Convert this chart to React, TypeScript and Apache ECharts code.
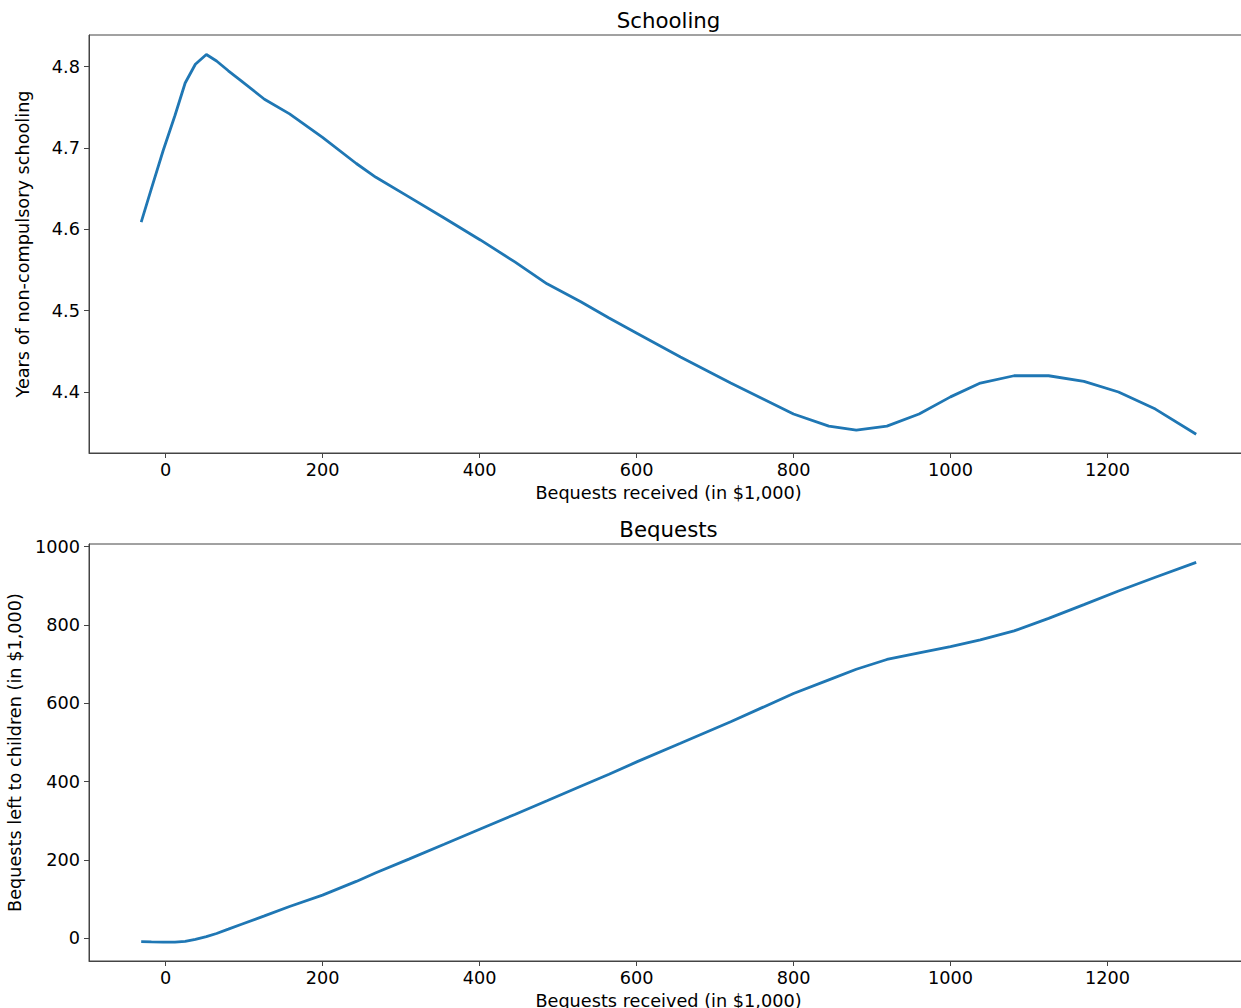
import React, { useEffect, useRef } from "react";
import * as echarts from "echarts";

const X = [-31, -18, -3, 12, 25, 38, 52, 65, 80, 96, 126, 158, 200, 243, 268, 310, 355, 401, 445, 486, 529, 565, 601, 656, 720, 760, 800, 845, 880, 919, 960, 1000, 1038, 1081, 1125, 1170, 1214, 1261, 1313];
const SCHOOLING = [4.609, 4.65, 4.697, 4.74, 4.78, 4.803, 4.815, 4.807, 4.795, 4.783, 4.76, 4.742, 4.713, 4.681, 4.664, 4.64, 4.614, 4.587, 4.56, 4.533, 4.511, 4.491, 4.472, 4.443, 4.411, 4.392, 4.373, 4.358, 4.353, 4.358, 4.373, 4.394, 4.411, 4.42, 4.42, 4.413, 4.4, 4.379, 4.348];
const BEQUESTS = [-9, -9.5, -10, -10, -8, -3, 4, 12, 23, 35, 57, 81, 110, 145, 167, 202, 240, 279, 316, 351, 388, 419, 451, 498, 553, 589, 625, 660, 687, 712, 729, 745, 762, 785, 817, 852, 887, 922, 960];
const X_TICKS = [0, 200, 400, 600, 800, 1000, 1200];
const Y1_TICKS = [4.4, 4.5, 4.6, 4.7, 4.8];
const Y2_TICKS = [0, 200, 400, 600, 800, 1000];

const FONT = "DejaVu Sans";
const AXIS = "#444";
const TXT = "#000";
const FS = 17.7;

export default function App() {
  const ref = useRef<HTMLDivElement>(null);
  useEffect(() => {
    if (!ref.current) return;
    const chart = echarts.init(ref.current, undefined, { renderer: "svg" });
    const xAxisBase = (gridIndex: number) => ({
      type: "value",
      gridIndex,
      min: -97.5,
      max: 1379,
      name: "Bequests received (in $1,000)",
      nameLocation: "middle",
      nameGap: 31,
      nameTextStyle: { fontFamily: FONT, fontSize: FS, color: TXT },
      axisLine: { show: true, onZero: false, lineStyle: { color: AXIS, width: 1 } },
      axisTick: { show: true, length: 5, customValues: X_TICKS, lineStyle: { color: AXIS, width: 1 } },
      axisLabel: { customValues: X_TICKS, margin: 8, fontFamily: FONT, fontSize: FS, color: TXT, formatter: (v: number) => String(v) },
      splitLine: { show: false },
    });
    const yAxisBase = (gridIndex: number, min: number, max: number, ticks: number[], name: string) => ({
      type: "value",
      gridIndex,
      min,
      max,
      name,
      nameLocation: "middle",
      nameGap: 57,
      nameTextStyle: { fontFamily: FONT, fontSize: FS, color: TXT },
      axisLine: { show: true, onZero: false, lineStyle: { color: AXIS, width: 1 } },
      axisTick: { show: true, length: 5, customValues: ticks, lineStyle: { color: AXIS, width: 1 } },
      axisLabel: { customValues: ticks, margin: 9, fontFamily: FONT, fontSize: FS, color: TXT, formatter: (v: number) => String(v) },
      splitLine: { show: false },
    });
    chart.setOption({
      animation: false,
      backgroundColor: "#ffffff",
      title: [
        { text: "Schooling", left: 668.5, top: 10, padding: 0, textAlign: "center", textStyle: { fontFamily: FONT, fontSize: 21.3, fontWeight: "normal", color: TXT } },
        { text: "Bequests", left: 668.5, top: 519, padding: 0, textAlign: "center", textStyle: { fontFamily: FONT, fontSize: 21.3, fontWeight: "normal", color: TXT } },
      ],
      grid: [
        { left: 89, top: 35, width: 1159, height: 418, show: true, borderColor: AXIS, borderWidth: 1, backgroundColor: "transparent", containLabel: false, outerBoundsMode: "none" },
        { left: 89, top: 544, width: 1159, height: 417, show: true, borderColor: AXIS, borderWidth: 1, backgroundColor: "transparent", containLabel: false, outerBoundsMode: "none" },
      ],
      xAxis: [xAxisBase(0), xAxisBase(1)],
      yAxis: [
        yAxisBase(0, 4.325, 4.839, Y1_TICKS, "Years of non-compulsory schooling"),
        yAxisBase(1, -58.3, 1007, Y2_TICKS, "Bequests left to children (in $1,000)"),
      ],
      series: [
        {
          type: "line",
          xAxisIndex: 0,
          yAxisIndex: 0,
          data: X.map((x, i) => [x, SCHOOLING[i]]),
          showSymbol: false,
          lineStyle: { color: "#1f77b4", width: 2.8 },
          itemStyle: { color: "#1f77b4" },
        },
        {
          type: "line",
          xAxisIndex: 1,
          yAxisIndex: 1,
          data: X.map((x, i) => [x, BEQUESTS[i]]),
          showSymbol: false,
          lineStyle: { color: "#1f77b4", width: 2.8 },
          itemStyle: { color: "#1f77b4" },
        },
      ],
    });
    return () => chart.dispose();
  }, []);
  return (
    <div style={{ position: "fixed", left: 0, top: 0, width: 1241, height: 1008, overflow: "hidden", background: "#fff" }}>
      <div ref={ref} style={{ width: 1262, height: 1008 }} />
    </div>
  );
}
